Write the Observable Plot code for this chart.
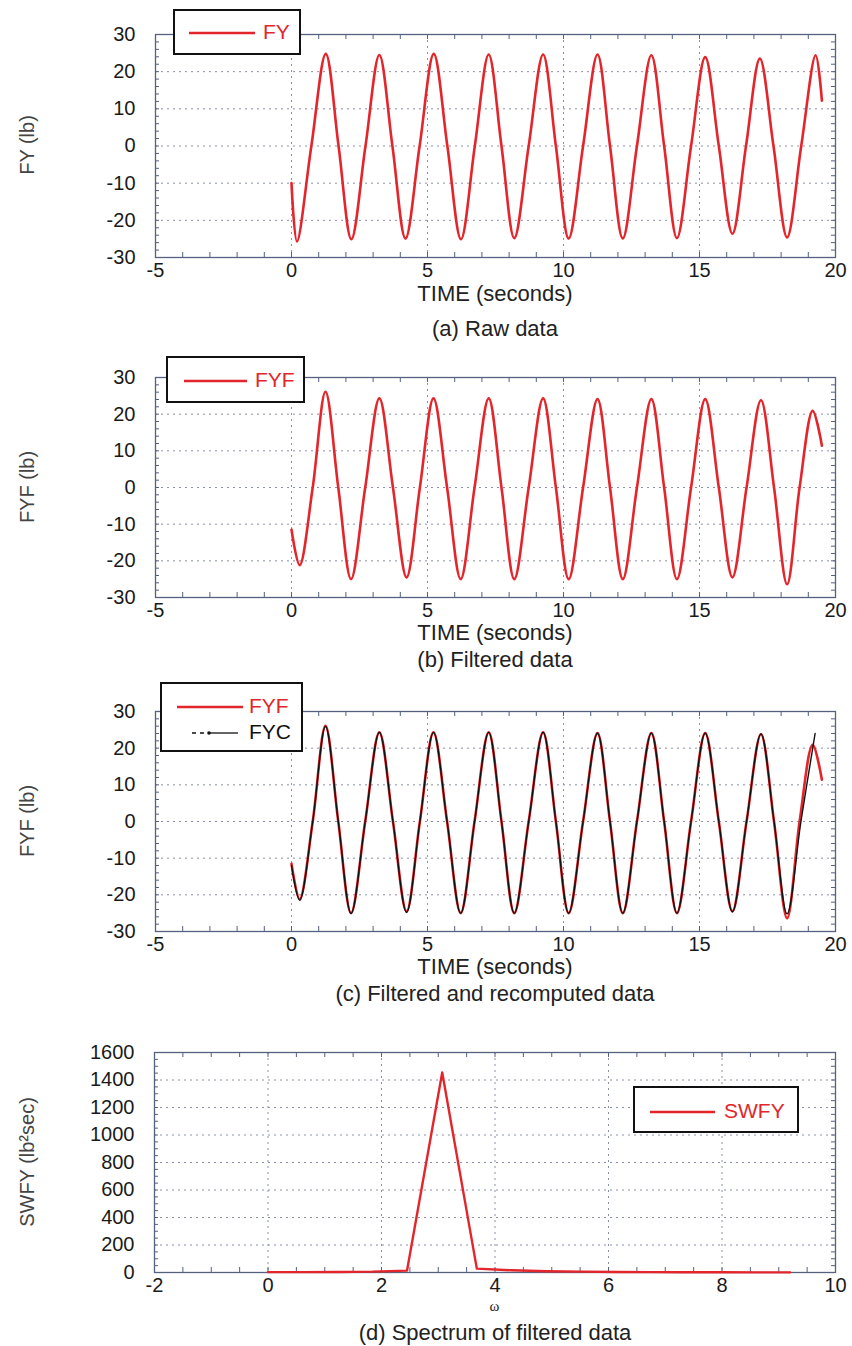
<!DOCTYPE html>
<html>
<head>
<meta charset="utf-8">
<script src="https://cdn.jsdelivr.net/npm/d3@7"></script>
<script src="https://cdn.jsdelivr.net/npm/@observablehq/plot@0.6"></script>
<style>
  html, body { margin: 0; padding: 0; background: #fff; }
  #page { position: relative; width: 852px; height: 1346px; overflow: hidden;
          font-family: "Liberation Sans", Arial, Helvetica, sans-serif; color: #222; }
  .panel { position: absolute; left: 0; }
  .xlabel { position: absolute; text-align: center; font-size: 22px; color: #222; line-height: 1; }
  .ylabel { position: absolute; font-size: 20px; color: #444; white-space: nowrap; line-height: 1;
            transform: translate(-50%, -50%) rotate(-90deg); }
  .caption { position: absolute; left: 155px; width: 680px; text-align: center; font-size: 22px; color: #222; line-height: 1; }
  .legend { position: absolute; box-sizing: border-box; border: 2px solid #111; background: #fff; }
  .legend .lt { position: absolute; font-size: 21px; line-height: 1; }
  .legend svg { position: absolute; left: 0; top: 0; overflow: visible; }
</style>
</head>
<body>
<div id="page"></div>
<script>
// ---------- DATA ----------
// (a) Raw data: FY (lb) vs TIME (seconds) — extrema and zero crossings
const fyTime  = [0, 0.2, 0.73, 1.26, 1.73, 2.2, 2.72, 3.23, 3.71, 4.19, 4.71, 5.23, 5.73, 6.23, 6.74, 7.25, 7.72, 8.19, 8.72, 9.25, 9.72, 10.19, 10.72, 11.25, 11.71, 12.18, 12.7, 13.23, 13.7, 14.17, 14.69, 15.21, 15.71, 16.21, 16.71, 17.22, 17.72, 18.22, 18.74, 19.27, 19.5];
const fyValue = [-10, -25.7, 0, 24.8, 0, -25.1, 0, 24.5, 0, -24.9, 0, 24.8, 0, -25.1, 0, 24.6, 0, -24.8, 0, 24.6, 0, -24.9, 0, 24.6, 0, -24.9, 0, 24.4, 0, -24.8, 0, 23.9, 0, -23.6, 0, 23.5, 0, -24.6, 0, 24.4, 12.2];

// (b),(c) Filtered data: FYF (lb)
const fyfTime  = [0, 0.3, 0.78, 1.25, 1.72, 2.19, 2.71, 3.23, 3.73, 4.23, 4.72, 5.22, 5.72, 6.22, 6.73, 7.25, 7.72, 8.19, 8.72, 9.25, 9.72, 10.19, 10.72, 11.25, 11.71, 12.18, 12.7, 13.23, 13.7, 14.17, 14.69, 15.21, 15.71, 16.21, 16.73, 17.26, 17.74, 18.22, 18.68, 19.16, 19.5];
const fyfValue = [-11.5, -21.2, 0, 26.1, 0, -25, 0, 24.3, 0, -24.5, 0, 24.3, 0, -25, 0, 24.3, 0, -25, 0, 24.3, 0, -25, 0, 24.1, 0, -25, 0, 24.1, 0, -25, 0, 24.1, 0, -24.5, 0, 23.8, 0, -26.4, 0, 20.9, 11.4];

// (c) Recomputed data: FYC (lb)
const fycTime  = [0, 0.3, 0.78, 1.25, 1.72, 2.19, 2.71, 3.23, 3.73, 4.23, 4.72, 5.22, 5.72, 6.22, 6.73, 7.25, 7.72, 8.19, 8.72, 9.25, 9.72, 10.19, 10.72, 11.25, 11.71, 12.18, 12.7, 13.23, 13.7, 14.17, 14.69, 15.21, 15.71, 16.21, 16.73, 17.26, 17.74, 18.22, 18.73, 19.25];
const fycValue = [-12, -21.5, 0, 25.9, 0, -25.1, 0, 24.3, 0, -24.8, 0, 24.3, 0, -25, 0, 24.3, 0, -25, 0, 24.3, 0, -25, 0, 24.1, 0, -25, 0, 24.1, 0, -25, 0, 24.1, 0, -24.6, 0, 23.9, 0, -25.2, 0, 24.0];

// (d) Spectrum of filtered data: SWFY (lb^2 sec) vs omega
const omega = [0, 0.61, 1.23, 1.84, 2.45, 3.07, 3.68, 4.3, 4.91, 5.52, 6.14, 6.75, 7.36, 7.98, 8.59, 9.2];
const swfy  = [3, 3, 4, 6, 14, 1455, 28, 16, 9, 6, 4, 3, 2, 2, 1, 1];

// tick labels
const timeTicks = [-5, 0, 5, 10, 15, 20];
const forceTicks = [-30, -20, -10, 0, 10, 20, 30];
const omegaTicks = [-2, 0, 2, 4, 6, 8, 10];
const swfyTicks = [0, 200, 400, 600, 800, 1000, 1200, 1400, 1600];

// ---------- STYLE ----------
const RED = "#e2262b";
const FRAME = "#56607f";
const GRID = "#8a90aa";
const FONT = '"Liberation Sans", Arial, Helvetica, sans-serif';
const fmt = d => String(d);

const page = document.getElementById("page");

function rows(xs, ys) { return xs.map((x, i) => ({x, y: ys[i]})); }

function panel({frameTop, frameH, marginLeft = 155, xDomain, yDomain, xMajor, yMajor, xMinor, yMinor, lines}) {
  const marginTop = 34, marginBottom = 40, marginRight = 17;
  const width = 852;
  const frameW = width - marginLeft - marginRight;
  const chart = Plot.plot({
    width, height: marginTop + frameH + marginBottom,
    marginLeft, marginRight, marginTop, marginBottom,
    style: {fontFamily: FONT, fontSize: "20px", color: "#1a1a1a", background: "transparent", overflow: "visible"},
    x: {domain: xDomain},
    y: {domain: yDomain},
    marks: [
      Plot.gridX(xMajor, {stroke: GRID, strokeOpacity: 1, strokeWidth: 1, strokeDasharray: "2,4"}),
      Plot.gridY(yMajor, {stroke: GRID, strokeOpacity: 1, strokeWidth: 1, strokeDasharray: "2,4"}),
      Plot.tickX(xMinor, {x: d => d, insetTop: frameH - 5, stroke: FRAME, strokeWidth: 1}),
      Plot.tickX(xMinor, {x: d => d, insetBottom: frameH - 5, stroke: FRAME, strokeWidth: 1}),
      Plot.tickY(yMinor, {y: d => d, insetRight: frameW - 4, stroke: FRAME, strokeWidth: 1}),
      Plot.tickY(yMinor, {y: d => d, insetLeft: frameW - 4, stroke: FRAME, strokeWidth: 1}),
      Plot.frame({stroke: FRAME, strokeWidth: 1.3}),
      Plot.axisX(xMajor, {tickSize: 0, tickPadding: 5, label: null, fill: "#1a1a1a", fontSize: 20, tickFormat: fmt}),
      Plot.axisY(yMajor, {tickSize: 0, tickPadding: 20, label: null, fill: "#1a1a1a", fontSize: 20, tickFormat: fmt}),
      ...lines
    ]
  });
  const holder = document.createElement("div");
  holder.className = "panel";
  holder.style.top = (frameTop - marginTop) + "px";
  holder.appendChild(chart);
  page.appendChild(holder);
}

function addText(cls, text, style) {
  const d = document.createElement("div");
  d.className = cls;
  d.textContent = text;
  Object.assign(d.style, style);
  page.appendChild(d);
  return d;
}

function legend(left, top, w, h, entries) {
  const box = document.createElement("div");
  box.className = "legend";
  Object.assign(box.style, {left: left + "px", top: top + "px", width: w + "px", height: h + "px"});
  const ns = "http://www.w3.org/2000/svg";
  const svg = document.createElementNS(ns, "svg");
  svg.setAttribute("width", w); svg.setAttribute("height", h);
  for (const e of entries) {
    if (e.kind === "solid") {
      const l = document.createElementNS(ns, "line");
      l.setAttribute("x1", e.x1); l.setAttribute("x2", e.x2);
      l.setAttribute("y1", e.y); l.setAttribute("y2", e.y);
      l.setAttribute("stroke", e.color); l.setAttribute("stroke-width", 2.6);
      svg.appendChild(l);
    } else {
      const l = document.createElementNS(ns, "line");
      l.setAttribute("x1", e.x1); l.setAttribute("x2", e.x1 + 14);
      l.setAttribute("y1", e.y); l.setAttribute("y2", e.y);
      l.setAttribute("stroke", e.color); l.setAttribute("stroke-width", 1.3);
      l.setAttribute("stroke-dasharray", "4,4");
      svg.appendChild(l);
      const c = document.createElementNS(ns, "circle");
      c.setAttribute("cx", e.x1 + 17); c.setAttribute("cy", e.y); c.setAttribute("r", 1.8);
      c.setAttribute("fill", e.color);
      svg.appendChild(c);
      const l2 = document.createElementNS(ns, "line");
      l2.setAttribute("x1", e.x1 + 17); l2.setAttribute("x2", e.x2);
      l2.setAttribute("y1", e.y); l2.setAttribute("y2", e.y);
      l2.setAttribute("stroke", e.color); l2.setAttribute("stroke-width", 1.3);
      svg.appendChild(l2);
    }
  }
  box.appendChild(svg);
  for (const e of entries) {
    const t = document.createElement("div");
    t.className = "lt";
    t.textContent = e.label;
    Object.assign(t.style, {left: e.tx + "px", top: (e.y - 12) + "px", color: e.textColor});
    box.appendChild(t);
  }
  page.appendChild(box);
}

const tMinor = d3.range(-5, 20.01, 1);
const fMinor = d3.range(-30, 30.01, 2);

// (a)
panel({frameTop: 34, frameH: 223, xDomain: [-5, 20], yDomain: [-30, 30],
  xMajor: timeTicks, yMajor: forceTicks, xMinor: tMinor, yMinor: fMinor,
  lines: [Plot.line(rows(fyTime, fyValue), {x: "x", y: "y", stroke: RED, strokeWidth: 2.6, curve: "catmull-rom"})]});
addText("xlabel", "TIME (seconds)", {left: "155px", width: "680px", top: "283px"});
addText("ylabel", "FY (lb)", {left: "27px", top: "145px"});
addText("caption", "(a) Raw data", {top: "318px"});
legend(173, 9, 128, 46, [{kind: "solid", x1: 14, x2: 80, y: 22, color: RED, label: "FY", tx: 88, textColor: RED}]);

// (b)
panel({frameTop: 377, frameH: 220, xDomain: [-5, 20], yDomain: [-30, 30],
  xMajor: timeTicks, yMajor: forceTicks, xMinor: tMinor, yMinor: fMinor,
  lines: [Plot.line(rows(fyfTime, fyfValue), {x: "x", y: "y", stroke: RED, strokeWidth: 2.6, curve: "catmull-rom"})]});
addText("xlabel", "TIME (seconds)", {left: "155px", width: "680px", top: "622px"});
addText("ylabel", "FYF (lb)", {left: "27px", top: "487px"});
addText("caption", "(b) Filtered data", {top: "649px"});
legend(166, 356, 139, 47, [{kind: "solid", x1: 16, x2: 79, y: 23, color: RED, label: "FYF", tx: 87, textColor: RED}]);

// (c)
panel({frameTop: 711, frameH: 220, xDomain: [-5, 20], yDomain: [-30, 30],
  xMajor: timeTicks, yMajor: forceTicks, xMinor: tMinor, yMinor: fMinor,
  lines: [
    Plot.line(rows(fyfTime, fyfValue), {x: "x", y: "y", stroke: RED, strokeWidth: 2.6, curve: "catmull-rom"}),
    Plot.line(rows(fycTime, fycValue), {x: "x", y: "y", stroke: "#111", strokeWidth: 1.4, curve: "catmull-rom"})
  ]});
addText("xlabel", "TIME (seconds)", {left: "155px", width: "680px", top: "956px"});
addText("ylabel", "FYF (lb)", {left: "27px", top: "821px"});
addText("caption", "(c) Filtered and recomputed data", {top: "983px"});
legend(160, 682, 143, 70, [
  {kind: "solid", x1: 15, x2: 81, y: 23, color: RED, label: "FYF", tx: 87, textColor: RED},
  {kind: "dashdot", x1: 30, x2: 76, y: 49, color: "#111", label: "FYC", tx: 87, textColor: "#111"}
]);

// (d)
panel({frameTop: 1052, frameH: 220, marginLeft: 154, xDomain: [-2, 10], yDomain: [0, 1600],
  xMajor: omegaTicks, yMajor: swfyTicks, xMinor: d3.range(-2, 10.01, 0.5), yMinor: d3.range(0, 1600.01, 50),
  lines: [Plot.line(rows(omega, swfy), {x: "x", y: "y", stroke: RED, strokeWidth: 2.4})]});
addText("xlabel", "ω", {left: "154px", width: "681px", top: "1299px", fontSize: "15px", fontFamily: '"Liberation Serif", "DejaVu Serif", serif'});
addText("ylabel", "SWFY (lb²sec)", {left: "27px", top: "1162px"});
addText("caption", "(d) Spectrum of filtered data", {top: "1322px"});
legend(633, 1086, 166, 47, [{kind: "solid", x1: 15, x2: 80, y: 24, color: RED, label: "SWFY", tx: 89, textColor: RED}]);
</script>
</body>
</html>
